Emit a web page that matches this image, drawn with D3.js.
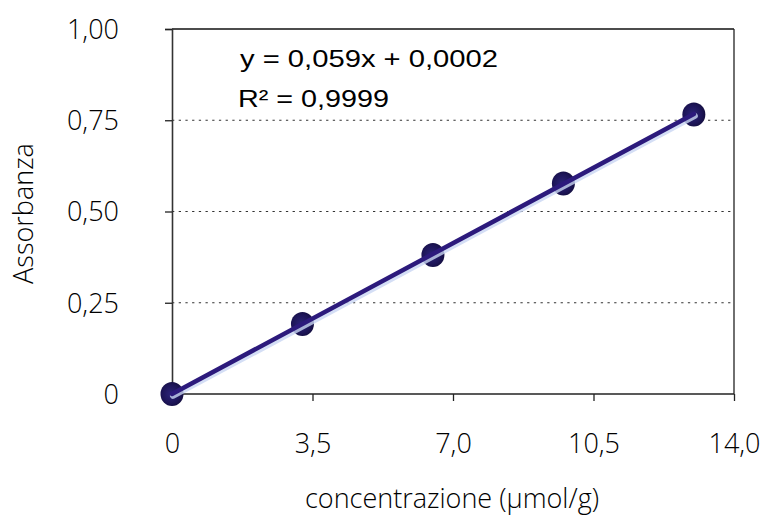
<!DOCTYPE html>
<html>
<head>
<meta charset="utf-8">
<script src="https://cdn.jsdelivr.net/npm/d3@7"></script>
<style>
  html, body { margin: 0; padding: 0; background: #fff; }
  svg { display: block; }
  .tick-label, .axis-title { font-family: "Open Sans", "Noto Sans", sans-serif; font-weight: 300; fill: #000; }
  .eq { font-family: "Liberation Sans", Arial, sans-serif; fill: #000; }
</style>
</head>
<body>
<svg id="chart" width="765" height="518"></svg>
<script>
// Calibration data: concentration (µmol/g) vs absorbance
const concentration = [0, 3.25, 6.5, 9.75, 13];
const absorbance = [0, 0.192, 0.381, 0.577, 0.766];

// Linear fit reported on the chart
const slope = 0.059;
const intercept = 0.0002;
const fitLabel = "y = 0,059x + 0,0002";
const r2Label = "R² = 0,9999";

// Axis ticks
const xTicks = [0, 3.5, 7.0, 10.5, 14.0];
const xTickLabels = ["0", "3,5", "7,0", "10,5", "14,0"];
const yTicks = [0, 0.25, 0.5, 0.75, 1.0];
const yTickLabels = ["0", "0,25", "0,50", "0,75", "1,00"];

const xTitle = "concentrazione (µmol/g)";
const yTitle = "Assorbanza";

const svg = d3.select("#chart");
const frame = { left: 172, right: 734, top: 29, bottom: 394 };

const x = d3.scaleLinear().domain([0, 14]).range([frame.left, frame.right]);
const y = d3.scaleLinear().domain([0, 1]).range([frame.bottom, frame.top]);

const defs = svg.append("defs");
const grad = defs.append("radialGradient").attr("id", "dot").attr("cx", "45%").attr("cy", "50%").attr("r", "55%");
grad.append("stop").attr("offset", "0%").attr("stop-color", "#2c2478");
grad.append("stop").attr("offset", "70%").attr("stop-color", "#1d1558");
grad.append("stop").attr("offset", "100%").attr("stop-color", "#140e40");

// Dotted horizontal gridlines
svg.append("g").selectAll("line")
  .data(yTicks.filter(d => d > 0 && d < 1))
  .join("line")
  .attr("x1", frame.left).attr("x2", frame.right)
  .attr("y1", d => y(d)).attr("y2", d => y(d))
  .attr("stroke", "#333").attr("stroke-width", 1.2)
  .attr("stroke-dasharray", "2.3,4.4");

// Frame: top and right borders
svg.append("line").attr("x1", frame.left).attr("x2", frame.right)
  .attr("y1", frame.top).attr("y2", frame.top).attr("stroke", "#111").attr("stroke-width", 1.3);
svg.append("line").attr("x1", frame.right).attr("x2", frame.right)
  .attr("y1", frame.top).attr("y2", frame.bottom).attr("stroke", "#222").attr("stroke-width", 1.3);

// Y axis
const yAxis = d3.axisLeft(y).tickValues(yTicks).tickSize(7).tickFormat((d, i) => yTickLabels[i]);
const gy = svg.append("g").attr("transform", `translate(${frame.left},0)`).call(yAxis);
gy.select(".domain").attr("stroke", "#333").attr("stroke-width", 1.6);
gy.selectAll(".tick line").attr("stroke", "#222").attr("stroke-width", 1.3);
gy.selectAll(".tick text").attr("class", "tick-label").attr("x", -53).attr("dy", "0.35em")
  .style("font-size", "27px");

// X axis
const xAxis = d3.axisBottom(x).tickValues(xTicks).tickSize(7).tickFormat((d, i) => xTickLabels[i]);
const gx = svg.append("g").attr("transform", `translate(0,${frame.bottom})`).call(xAxis);
gx.select(".domain").attr("stroke", "#222").attr("stroke-width", 1.3).attr("d", `M${frame.left},0H${frame.right}`);
gx.selectAll(".tick line").attr("stroke", "#222").attr("stroke-width", 1.3);
gx.selectAll(".tick text").attr("class", "tick-label").attr("y", 59).attr("dy", 0)
  .style("font-size", "27px");

// Axis titles
svg.append("text").attr("class", "axis-title")
  .attr("x", x(7) - 1).attr("y", 508).attr("text-anchor", "middle")
  .style("font-size", "27px").text(xTitle);
svg.append("text").attr("class", "axis-title")
  .attr("transform", `translate(33,${y(0.5) + 2}) rotate(-90)`).attr("text-anchor", "middle")
  .style("font-size", "27px").text(yTitle);

// Data markers
const pts = concentration.map((c, i) => ({ c, a: absorbance[i] }));
svg.append("g").selectAll("ellipse")
  .data(pts)
  .join("ellipse")
  .attr("cx", d => x(d.c)).attr("cy", d => y(d.a))
  .attr("rx", 11.5).attr("ry", 12)
  .attr("fill", "url(#dot)");

// Trend line from the fitted equation
const xMin = d3.min(concentration), xMax = d3.max(concentration);
const fit = [xMin, xMax].map(c => ({ c, a: slope * c + intercept }));
const line = d3.line().x(d => x(d.c)).y(d => y(d.a));
svg.append("path").datum(fit).attr("d", line)
  .attr("fill", "none").attr("stroke", "#c9d6f2").attr("stroke-width", 6)
  .attr("stroke-linecap", "round").attr("transform", "translate(1,2)").attr("opacity", 0.8);
svg.append("path").datum(fit).attr("d", line)
  .attr("fill", "none").attr("stroke", "#2c1a7c").attr("stroke-width", 4.5)
  .attr("stroke-linecap", "round");

// Equation and R² labels
svg.append("text").attr("class", "eq").attr("x", 240).attr("y", 67)
  .style("font-size", "23.5px").attr("textLength", 258).attr("lengthAdjust", "spacingAndGlyphs")
  .text(fitLabel);
svg.append("text").attr("class", "eq").attr("x", 238).attr("y", 107)
  .style("font-size", "23.5px").attr("textLength", 151).attr("lengthAdjust", "spacingAndGlyphs")
  .text(r2Label);
</script>
</body>
</html>
